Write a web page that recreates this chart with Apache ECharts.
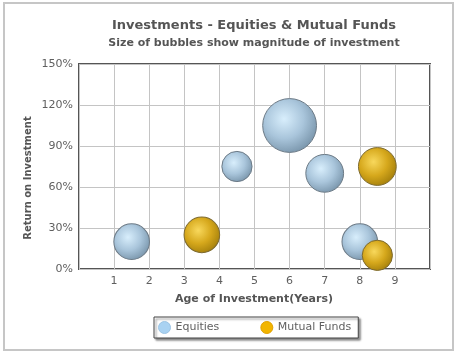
<!DOCTYPE html>
<html>
<head>
<meta charset="utf-8">
<script src="https://cdn.jsdelivr.net/npm/echarts@6/dist/echarts.min.js"></script>
<style>
html,body{margin:0;padding:0;background:#fff;}
#chart{width:459px;height:355px;}
</style>
</head>
<body>
<div id="chart"></div>
<script>
// ---- data ----
var titleText = 'Investments - Equities & Mutual Funds';
var subtitleText = 'Size of bubbles show magnitude of investment';
var xAxisTitle = 'Age of Investment(Years)';
var yAxisTitle = 'Return on Investment';
var seriesNames = ['Equities', 'Mutual Funds'];
var xTickLabels = ['1', '2', '3', '4', '5', '6', '7', '8', '9'];
var yTickLabels = ['0%', '30%', '60%', '90%', '120%', '150%'];

var equitiesAge = [1.5, 4.5, 6, 7, 8];
var equitiesReturn = [20, 75, 105, 70, 20];
var equitiesSize = [32, 23, 73, 36, 32];

var mutualAge = [3.5, 8.5, 8.5];
var mutualReturn = [25, 75, 10];
var mutualSize = [32, 36, 23];

function zip(a, b, c) {
  return a.map(function (v, i) { return [v, b[i], c[i]]; });
}

var font = 'DejaVu Sans, Verdana, sans-serif';
var chart = echarts.init(document.getElementById('chart'), null, {renderer: 'canvas'});

var eqGrad = {
  type: 'radial', x: 0.4, y: 0.38, r: 0.65,
  colorStops: [
    {offset: 0, color: '#d8eefc'},
    {offset: 0.55, color: '#a9c5db'},
    {offset: 1, color: '#7a96ac'}
  ]
};
var mfGrad = {
  type: 'radial', x: 0.4, y: 0.38, r: 0.65,
  colorStops: [
    {offset: 0, color: '#f8d85c'},
    {offset: 0.55, color: '#d6a81c'},
    {offset: 1, color: '#a5800c'}
  ]
};

chart.setOption({
  animation: false,
  backgroundColor: '#fff',
  title: [
    {
      text: titleText, left: 254, top: 19, textAlign: 'center', padding: 0,
      textStyle: {fontFamily: font, fontSize: 13, fontWeight: 'bold', color: '#555'}
    },
    {
      text: subtitleText, left: 254, top: 38, textAlign: 'center', padding: 0,
      textStyle: {fontFamily: font, fontSize: 11, fontWeight: 'bold', color: '#555'}
    }
  ],
  legend: {
    left: 154, top: 317,
    padding: [4, 7, 4, 4],
    itemWidth: 12, itemHeight: 12,
    itemGap: 41, itemTextGap: 14,
    backgroundColor: '#fff',
    borderColor: '#444', borderWidth: 1,
    shadowColor: 'rgba(0,0,0,0.45)', shadowBlur: 2, shadowOffsetX: 2, shadowOffsetY: 2,
    textStyle: {fontFamily: font, fontSize: 11, color: '#5f5f5f'},
    data: [
      {name: seriesNames[0], icon: 'circle', itemStyle: {color: '#a9d2f2', borderColor: '#9cc4e4', borderWidth: 1}},
      {name: seriesNames[1], icon: 'circle', itemStyle: {color: '#f2b500', borderColor: '#e0a000', borderWidth: 1}}
    ]
  },
  grid: {
    left: 79, right: 29, top: 64, bottom: 86,
    show: true, borderColor: '#555', borderWidth: 2,
    containLabel: false
  },
  xAxis: {
    type: 'value', min: 0, max: 10, interval: 1,
    axisLine: {show: false},
    axisTick: {show: false},
    splitLine: {show: true, lineStyle: {color: '#c4c4c4', width: 1}},
    axisLabel: {
      margin: 7, fontFamily: font, fontSize: 11, color: '#5f5f5f',
      formatter: function (v) {
        var idx = v - 1;
        return (idx >= 0 && idx < xTickLabels.length) ? xTickLabels[idx] : '';
      }
    }
  },
  yAxis: {
    type: 'value', min: 0, max: 150, interval: 30,
    axisLine: {show: false},
    axisTick: {show: false},
    splitLine: {show: true, lineStyle: {color: '#c4c4c4', width: 1}},
    axisLabel: {
      margin: 6, fontFamily: font, fontSize: 11, color: '#5f5f5f',
      formatter: function (v) { return yTickLabels[Math.round(v / 30)]; }
    }
  },
  graphic: [
    {
      type: 'rect', silent: true, z: -10,
      shape: {x: 4, y: 3, width: 449, height: 347},
      style: {fill: 'none', stroke: '#c6c6c6', lineWidth: 2}
    },
    {
      type: 'text', x: 254, y: 299,
      style: {text: xAxisTitle, fill: '#555', font: 'bold 11px ' + font, align: 'center', verticalAlign: 'middle'}
    },
    {
      type: 'text', x: 28, y: 178, rotation: Math.PI / 2,
      style: {text: yAxisTitle, fill: '#555', font: 'bold 10px ' + font, align: 'center', verticalAlign: 'middle'}
    }
  ],
  series: [
    {
      name: seriesNames[0], type: 'scatter',
      data: zip(equitiesAge, equitiesReturn, equitiesSize),
      symbolSize: function (d) { return Math.sqrt(d[2]) * 6.3; },
      itemStyle: {color: eqGrad, borderColor: '#6c7a86', borderWidth: 1, opacity: 1}
    },
    {
      name: seriesNames[1], type: 'scatter',
      data: zip(mutualAge, mutualReturn, mutualSize),
      symbolSize: function (d) { return Math.sqrt(d[2]) * 6.3; },
      itemStyle: {color: mfGrad, borderColor: '#7d6a30', borderWidth: 1, opacity: 1}
    }
  ]
});
</script>
</body>
</html>
